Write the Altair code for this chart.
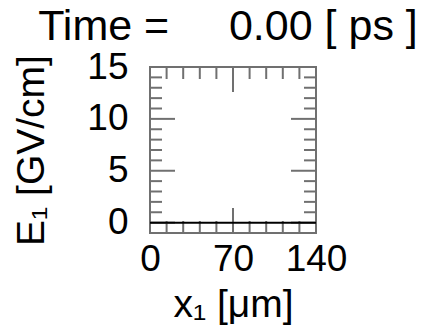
import altair as alt
import pandas as pd

# Field profile at the first output step
x_um = [0, 140]
e1_gv_cm = [0.0, 0.0]

# Axis tick positions
x_labels = [0, 70, 140]
y_labels = [0, 5, 10, 15]
x_minor = [14, 28, 42, 56, 84, 98, 112, 126]
x_major = [70]
y_minor = [-1, 1, 2, 3, 4, 6, 7, 8, 9, 11, 12, 13, 14]
y_major = [0, 5, 10, 15]

# Heading shown above the frame
time_ps = [0.00]
heading = ["Time =" + "\u00a0" * 5 + f"{time_ps[0]:.2f} [ ps ]"]

W, H = 166, 166
FONT = "Liberation Sans"
FRAME = "#707070"
MINOR_LEN, MAJOR_LEN = 12, 25

xs = alt.Scale(domain=[0, 140], nice=False, zero=False)
ys = alt.Scale(domain=[-1, 15], nice=False, zero=False)

profile = pd.DataFrame({"x": x_um, "e": e1_gv_cm})

line = alt.Chart(profile).mark_line(color="black", strokeWidth=2).encode(
    x=alt.X("x:Q", scale=xs,
            axis=alt.Axis(values=x_labels, ticks=False, domain=False, grid=False,
                          labelFont=FONT, labelFontSize=37, labelColor="black",
                          labelPadding=8, labelFlush=False,
                          title="x₁ [μm]", titleFont=FONT, titleFontSize=39,
                          titleFontWeight="normal", titleColor="black",
                          titlePadding=8)),
    y=alt.Y("e:Q", scale=ys,
            axis=alt.Axis(values=y_labels, ticks=False, domain=False, grid=False,
                          labelFont=FONT, labelFontSize=37, labelColor="black",
                          labelPadding=22, labelFlush=False,
                          title="E₁ [GV/cm]", titleFont=FONT, titleFontSize=39,
                          titleFontWeight="normal", titleColor="black",
                          titlePadding=35)),
)


def xticks(values, length):
    df = pd.DataFrame({"x": values})
    base = alt.Chart(df).mark_rule(color=FRAME, strokeWidth=2)
    bottom = base.encode(x=alt.X("x:Q", scale=xs), y=alt.value(H), y2=alt.value(H - length))
    top = base.encode(x=alt.X("x:Q", scale=xs), y=alt.value(0), y2=alt.value(length))
    return [bottom, top]


def yticks(values, length):
    df = pd.DataFrame({"e": values})
    base = alt.Chart(df).mark_rule(color=FRAME, strokeWidth=2)
    left = base.encode(y=alt.Y("e:Q", scale=ys), x=alt.value(0), x2=alt.value(length))
    right = base.encode(y=alt.Y("e:Q", scale=ys), x=alt.value(W), x2=alt.value(W - length))
    return [left, right]


head = alt.Chart(pd.DataFrame({"t": heading})).mark_text(
    font=FONT, fontSize=43, color="black", align="center", baseline="alphabetic",
).encode(x=alt.value(W / 2 - 5), y=alt.value(-27), text="t:N")

layers = (xticks(x_minor, MINOR_LEN) + xticks(x_major, MAJOR_LEN)
          + yticks(y_minor, MINOR_LEN) + yticks(y_major, MAJOR_LEN) + [line, head])

chart = alt.layer(*layers).properties(
    width=W, height=H,
    autosize=alt.AutoSizeParams(type="none"),
    padding={"left": 150, "top": 67, "right": 109, "bottom": 97},
    background="white",
).configure_view(stroke=FRAME, strokeWidth=2)

chart.save("out.html", embed_options={"renderer": "svg", "actions": False})
